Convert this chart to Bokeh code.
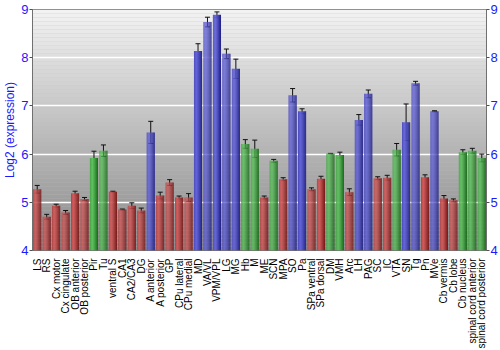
import numpy as np
from bokeh.plotting import figure
from bokeh.layouts import column
from bokeh.models import (ColumnDataSource, FactorRange, Range1d, LinearAxis,
                          Whisker, TeeHead, BoxAnnotation, FixedTicker)
from bokeh.core.properties import value
from bokeh.transform import dodge
from bokeh.embed import file_html
from bokeh.resources import INLINE

regions = ["LS", "RS", "Cx motor", "Cx cingulate", "OB anterior", "OB posterior",
           "Pir", "Tu", "ventral S", "CA1", "CA2/CA3", "DG", "A anterior",
           "A posterior", "GP", "CPu lateral", "CPu medial", "MD", "VA/VL",
           "VPM/VPL", "LG", "MG", "Hb", "M", "ME", "SCN", "MPA", "SO", "Pa",
           "SPa ventral", "SPa dorsal", "DM", "VMH", "Arc", "LH", "PAG", "SC",
           "IC", "VTA", "SN", "Tg", "Pn", "MVe", "Cb vermis", "Cb lobe",
           "Cb nucleus", "spinal cord anterior", "spinal cord posterior"]

expression = [5.27, 4.70, 4.93, 4.79, 5.19, 5.07, 5.92, 6.07, 5.22, 4.85,
              4.93, 4.83, 6.45, 5.14, 5.41, 5.10, 5.10, 8.14, 8.74, 8.89,
              8.08, 7.77, 6.21, 6.11, 5.10, 5.86, 5.48, 7.22, 6.89, 5.27,
              5.49, 6.01, 5.98, 5.21, 6.71, 7.25, 5.50, 5.51, 6.09, 6.66,
              7.47, 5.52, 6.89, 5.08, 5.04, 6.04, 6.07, 5.92]

error = [0.08, 0.05, 0.03, 0.04, 0.04, 0.03, 0.14, 0.12, 0.01, 0.01,
         0.06, 0.05, 0.23, 0.07, 0.06, 0.03, 0.08, 0.15, 0.10, 0.06,
         0.10, 0.20, 0.09, 0.18, 0.03, 0.03, 0.03, 0.14, 0.05, 0.03,
         0.05, 0.005, 0.06, 0.07, 0.11, 0.08, 0.03, 0.05, 0.13, 0.38,
         0.04, 0.05, 0.01, 0.06, 0.03, 0.05, 0.05, 0.08]

group = ["r", "r", "r", "r", "r", "r", "g", "g", "r", "r", "r", "r", "b",
         "r", "r", "r", "r", "b", "b", "b", "b", "b", "g", "g", "r", "g",
         "r", "b", "b", "r", "r", "g", "g", "r", "b", "b", "r", "r", "g",
         "b", "b", "r", "b", "r", "r", "g", "g", "g"]

y_ticks = [4, 5, 6, 7, 8, 9]

# styling palettes (light -> dark) for the horizontal bar shading
shades = {"r": ((0xd4, 0x5c, 0x5c), (0x78, 0x1a, 0x1a)),
          "b": ((0x64, 0x64, 0xdc), (0x22, 0x22, 0x88)),
          "g": ((0x5e, 0xc4, 0x5e), (0x1a, 0x6c, 0x1a))}
mix = [0.30, 0.12, 0.05, 0.18, 0.35, 0.55, 0.75, 0.95]


def hexc(a, b, f):
    return "#%02x%02x%02x" % tuple(int(round(a[i] + (b[i] - a[i]) * f)) for i in range(3))


data = dict(region=regions, value=expression,
            upper=[v + e for v, e in zip(expression, error)],
            lower=[v - e for v, e in zip(expression, error)],
            base=[y_ticks[0]] * len(regions),
            lab_y=[1.0] * len(regions))
for k, f in enumerate(mix):
    data["c%d" % k] = [hexc(shades[g][0], shades[g][1], f) for g in group]
src = ColumnDataSource(data)

xr = FactorRange(*regions, range_padding=0)
p = figure(x_range=xr, y_range=Range1d(y_ticks[0], y_ticks[-1]),
           width=500, height=257, output_backend="svg", toolbar_location=None,
           min_border_left=27, min_border_right=14, min_border_top=9,
           min_border_bottom=7)
p.background_fill_color = "#c0c0c0"
p.border_fill_color = "white"
p.outline_line_color = "#707070"

# vertical background gradient
nb = 60
edges = np.linspace(y_ticks[0], y_ticks[-1], nb + 1)
for i in range(nb):
    f = (i + 0.5) / nb
    c = hexc((0x88, 0x88, 0x88), (0xf3, 0xf3, 0xf3), f)
    p.add_layout(BoxAnnotation(bottom=edges[i], top=edges[i + 1], fill_color=c,
                               fill_alpha=1, line_color=None, level="image",
                               editable=False))

bw = 0.86
n = len(mix)
sw = bw / n
for k in range(n):
    off = -bw / 2 + sw * (k + 0.5)
    p.vbar(x=dodge("region", off, range=xr), top="value", bottom="base",
           width=sw * 1.02, fill_color="c%d" % k, line_color=None, source=src)

wh = Whisker(base="region", upper="upper", lower="lower", source=src,
             line_color="#111111", line_width=1,
             upper_head=TeeHead(size=5, line_color="#111111", line_width=1),
             lower_head=TeeHead(size=5, line_color="#111111", line_width=1))
p.add_layout(wh)

p.xgrid.grid_line_color = None
p.ygrid.grid_line_color = "white"
p.ygrid.grid_line_width = 1.5
p.ygrid.ticker = FixedTicker(ticks=y_ticks)

font = "Liberation Sans"
p.yaxis.ticker = FixedTicker(ticks=y_ticks)
p.yaxis.axis_label = "Log2 (expression)"
p.yaxis.axis_label_text_font = font
p.yaxis.axis_label_text_font_style = "normal"
p.yaxis.axis_label_text_font_size = "12px"
p.yaxis.axis_label_text_color = "#1a1aff"
p.yaxis.axis_label_standoff = 1
p.yaxis.major_label_text_font = font
p.yaxis.major_label_text_font_size = "13px"
p.yaxis.major_label_text_color = "#1a1aff"
p.yaxis.major_label_standoff = 1
p.yaxis.major_tick_out = 3
p.yaxis.major_tick_in = 0
p.yaxis.minor_tick_line_color = None
p.yaxis.axis_line_color = "#707070"
p.yaxis.major_tick_line_color = "#505050"

ra = LinearAxis(ticker=FixedTicker(ticks=y_ticks))
ra.major_label_text_font = font
ra.major_label_text_font_size = "13px"
ra.major_label_text_color = "#1a1aff"
ra.major_label_standoff = 1
ra.major_tick_out = 3
ra.major_tick_in = 0
ra.minor_tick_line_color = None
ra.axis_line_color = "#707070"
ra.major_tick_line_color = "#505050"
p.add_layout(ra, "right")
p.xaxis.visible = False

# strip below the chart holding the category labels (vertical, bottom-to-top)
q = figure(x_range=xr, y_range=Range1d(0, 1), width=500, height=93,
           output_backend="svg", toolbar_location=None,
           x_axis_type=None, y_axis_type=None,
           min_border_left=27, min_border_right=14, min_border_top=0,
           min_border_bottom=0)
q.outline_line_color = None
q.background_fill_color = "white"
q.border_fill_color = "white"
q.xgrid.grid_line_color = None
q.ygrid.grid_line_color = None
q.text(x="region", y="lab_y", text="region", source=src, angle=np.pi / 2,
       y_offset=1, text_align="right", text_baseline="middle",
       text_font=value(font), text_font_size="10px", text_color="black")

open("out.html", "w").write(file_html(column(p, q, spacing=0), INLINE))
